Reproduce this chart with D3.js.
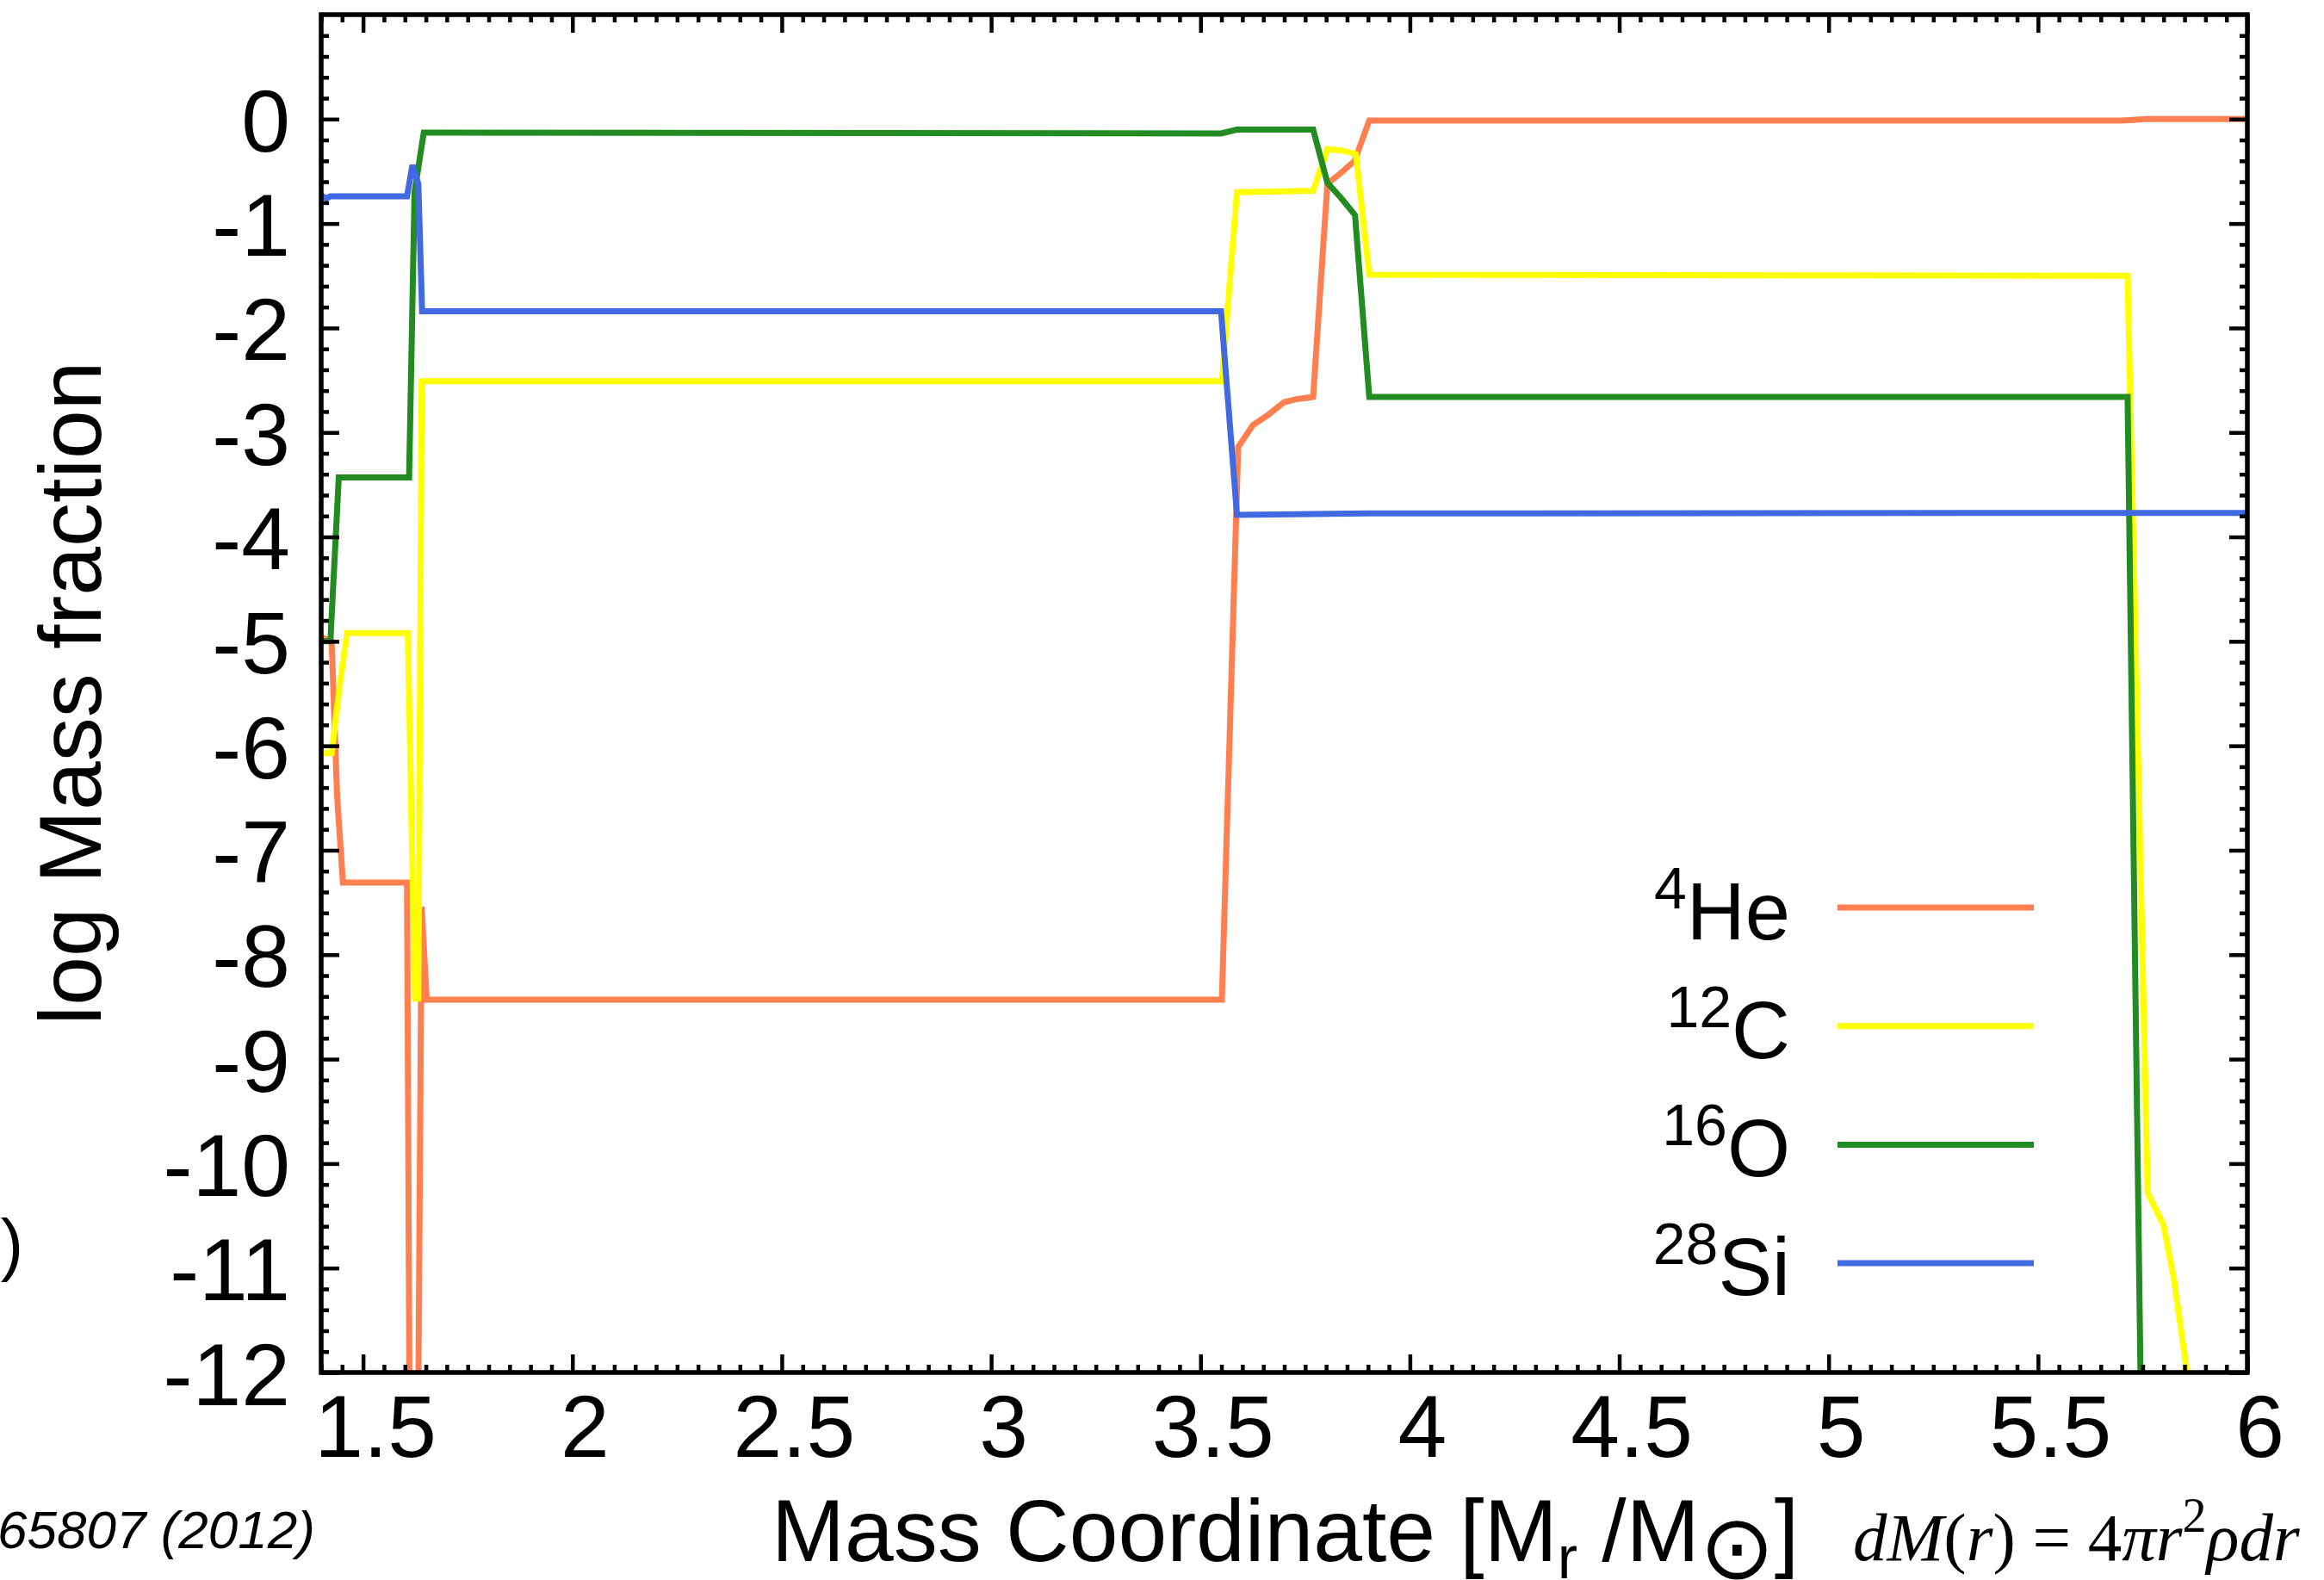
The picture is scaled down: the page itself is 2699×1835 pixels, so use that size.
<!DOCTYPE html>
<html>
<head>
<meta charset="utf-8">
<script src="https://cdn.jsdelivr.net/npm/d3@7"></script>
<style>
  html, body { margin: 0; padding: 0; background: #ffffff; }
  svg { display: block; }
</style>
</head>
<body>
<script>
// Chemical abundance profile of a stellar core: log10 mass fraction of
// each species against the enclosed mass coordinate M_r (solar masses).

const massHe = [1.400, 1.425, 1.438, 1.452, 1.605, 1.613, 1.629, 1.640, 1.652, 3.551, 3.590, 3.625, 3.662, 3.700, 3.731, 3.769, 3.803, 3.834, 3.868, 3.903, 5.700, 5.760, 6.000];
const logHe  = [-4.96, -5.00, -6.48, -7.31, -7.31, -14.0, -14.0, -7.54, -8.43, -8.43, -3.14, -2.93, -2.83, -2.71, -2.68, -2.66, -0.62, -0.52, -0.40, -0.013, -0.013, 0.0, 0.0];

const massC = [1.400, 1.425, 1.445, 1.462, 1.607, 1.624, 1.632, 1.640, 3.551, 3.587, 3.769, 3.803, 3.837, 3.871, 3.903, 5.714, 5.762, 5.800, 5.824, 5.855, 5.870];
const logC  = [-6.07, -6.07, -5.40, -4.92, -4.92, -8.42, -8.42, -2.51, -2.51, -0.70, -0.686, -0.288, -0.30, -0.335, -1.49, -1.50, -10.28, -10.59, -11.09, -11.97, -12.6];

const massO = [1.400, 1.422, 1.442, 1.610, 1.623, 1.645, 3.549, 3.587, 3.769, 3.803, 3.834, 3.869, 3.903, 5.714, 5.748];
const logO  = [-5.00, -5.00, -3.43, -3.43, -0.70, -0.13, -0.137, -0.101, -0.101, -0.61, -0.747, -0.92, -2.66, -2.66, -13.0];

const massSi = [1.400, 1.412, 1.422, 1.605, 1.618, 1.632, 1.641, 3.549, 3.587, 3.900, 6.000];
const logSi  = [-0.73, -0.76, -0.74, -0.74, -0.44, -0.62, -1.84, -1.84, -3.79, -3.775, -3.77];

// Legend entries: mass number (superscript) and element symbol
const speciesA    = ["4", "12", "16", "28"];
const speciesName = ["He", "C", "O", "Si"];

// Axis ticks and labels
const xTicks      = [1.5, 2, 2.5, 3, 3.5, 4, 4.5, 5, 5.5, 6];
const xTickLabels = ["1.5", "2", "2.5", "3", "3.5", "4", "4.5", "5", "5.5", "6"];
const yTicks      = [0, -1, -2, -3, -4, -5, -6, -7, -8, -9, -10, -11, -12];
const yTickLabels = ["0", "-1", "-2", "-3", "-4", "-5", "-6", "-7", "-8", "-9", "-10", "-11", "-12"];

// Line colours per species (X11 coral, yellow, forestgreen, royalblue)
const lineColors = ["#ff7f50", "#ffff00", "#228b22", "#4169e1"];

const W = 2699, H = 1835;
const plot = { left: 373, right: 2610, top: 17, bottom: 1594 };
const SANS = "'Liberation Sans', Arial, Helvetica, sans-serif";
const SERIF = "'Liberation Serif', 'Times New Roman', Times, serif";

const svg = d3.select("body").append("svg")
  .attr("width", W).attr("height", H)
  .attr("viewBox", `0 0 ${W} ${H}`);

const x = d3.scaleLinear().domain([1.4, 6]).range([plot.left, plot.right]);
const y = d3.scaleLinear().domain([-12, 1]).range([plot.bottom, plot.top]);

svg.append("defs").append("clipPath").attr("id", "plotClip")
  .append("rect")
  .attr("x", plot.left).attr("y", plot.top)
  .attr("width", plot.right - plot.left).attr("height", plot.bottom - plot.top);

// ---- profiles ----
const series = [
  { m: massHe, v: logHe },
  { m: massC,  v: logC },
  { m: massO,  v: logO },
  { m: massSi, v: logSi }
];

const line = d3.line().x(d => x(d[0])).y(d => y(d[1]));

const gLines = svg.append("g").attr("clip-path", "url(#plotClip)");
series.forEach((s, i) => {
  const pts = s.m.map((m, k) => [m, s.v[k]]);
  gLines.append("path")
    .datum(pts)
    .attr("d", line)
    .attr("fill", "none")
    .attr("stroke", lineColors[i])
    .attr("stroke-width", 7)
    .attr("stroke-linejoin", "miter")
    .attr("stroke-miterlimit", 4);
});

// ---- axes (all ticks point inward) ----
const majorLen = 21, minorLen = 9, tickW = 4.5;
const xMinor = d3.range(28, 121).map(k => k * 0.05).filter(v => Math.abs(v * 2 - Math.round(v * 2)) > 1e-6);
const yMinor = d3.range(-60, 6).map(k => k * 0.2).filter(v => Math.abs(v - Math.round(v)) > 1e-6);

function styleAxis(g) {
  g.select(".domain").remove();
  g.selectAll("line").attr("stroke", "#000").attr("stroke-width", tickW);
}

// bottom
svg.append("g").attr("transform", `translate(0,${plot.bottom})`)
  .call(d3.axisBottom(x).tickValues(xMinor).tickSize(-minorLen).tickFormat(""))
  .call(styleAxis);
const gxb = svg.append("g").attr("transform", `translate(0,${plot.bottom})`)
  .call(d3.axisBottom(x).tickValues(xTicks).tickSize(-majorLen)
    .tickFormat((d, i) => xTickLabels[i]))
  .call(styleAxis);
gxb.selectAll("text")
  .attr("x", 14).attr("y", 98).attr("dy", null)
  .attr("font-family", SANS).attr("font-size", 102).attr("fill", "#000");

// top
svg.append("g").attr("transform", `translate(0,${plot.top})`)
  .call(d3.axisTop(x).tickValues(xMinor).tickSize(-minorLen).tickFormat(""))
  .call(styleAxis);
svg.append("g").attr("transform", `translate(0,${plot.top})`)
  .call(d3.axisTop(x).tickValues(xTicks).tickSize(-majorLen).tickFormat(""))
  .call(styleAxis);

// left
svg.append("g").attr("transform", `translate(${plot.left},0)`)
  .call(d3.axisLeft(y).tickValues(yMinor).tickSize(-minorLen).tickFormat(""))
  .call(styleAxis);
const gyl = svg.append("g").attr("transform", `translate(${plot.left},0)`)
  .call(d3.axisLeft(y).tickValues(yTicks).tickSize(-majorLen)
    .tickFormat((d, i) => yTickLabels[i]))
  .call(styleAxis);
gyl.selectAll("text")
  .attr("x", -36).attr("dy", null).attr("y", 37)
  .attr("text-anchor", "end")
  .attr("font-family", SANS).attr("font-size", 102).attr("fill", "#000");

// right
svg.append("g").attr("transform", `translate(${plot.right},0)`)
  .call(d3.axisRight(y).tickValues(yMinor).tickSize(-minorLen).tickFormat(""))
  .call(styleAxis);
svg.append("g").attr("transform", `translate(${plot.right},0)`)
  .call(d3.axisRight(y).tickValues(yTicks).tickSize(-majorLen).tickFormat(""))
  .call(styleAxis);

// frame
svg.append("rect")
  .attr("x", plot.left).attr("y", plot.top)
  .attr("width", plot.right - plot.left).attr("height", plot.bottom - plot.top)
  .attr("fill", "none").attr("stroke", "#000").attr("stroke-width", 5.5);

// ---- axis titles ----
svg.append("text")
  .attr("transform", `translate(117,805) rotate(-90)`)
  .attr("text-anchor", "middle")
  .attr("font-family", SANS).attr("font-size", 102).attr("fill", "#000")
  .text("log Mass fraction");

const xt = svg.append("text")
  .attr("x", 896).attr("y", 1813)
  .attr("font-family", SANS).attr("font-size", 102).attr("fill", "#000");
xt.append("tspan").text("Mass Coordinate [M");
xt.append("tspan").attr("font-size", 70).attr("dy", 20).text("r");
xt.append("tspan").attr("dy", -20).text(" /M");
xt.append("tspan").attr("font-size", 104).attr("dy", 20).attr("font-family", "'DejaVu Sans', sans-serif").text("\u2299");
xt.append("tspan").attr("dy", -20).text("]");

// mass element relation
const eq = svg.append("text")
  .attr("x", 2152).attr("y", 1812)
  .attr("font-family", SERIF).attr("font-size", 79).attr("fill", "#000");
eq.append("tspan").attr("font-style", "italic").text("dM");
eq.append("tspan").text("(");
eq.append("tspan").attr("font-style", "italic").text("r");
eq.append("tspan").text(") = 4");
eq.append("tspan").attr("font-style", "italic").text("\u03c0r");
eq.append("tspan").attr("font-size", 56).attr("dy", -33).text("2");
eq.append("tspan").attr("dy", 33).attr("font-style", "italic").text("\u03c1dr");

// fragments of neighbouring captions
svg.append("text")
  .attr("x", -3).attr("y", 1798)
  .attr("font-family", SANS).attr("font-size", 62).attr("font-style", "italic").attr("fill", "#000")
  .text("65807 (2012)");
svg.append("text")
  .attr("x", 27).attr("y", 1472).attr("text-anchor", "end")
  .attr("font-family", SANS).attr("font-size", 79).attr("fill", "#000")
  .text("n)");

// ---- legend ----
const legY0 = 1054, legDY = 137.7;
const leg = svg.append("g");
speciesName.forEach((name, i) => {
  const ly = legY0 + i * legDY;
  leg.append("line")
    .attr("x1", 2134).attr("x2", 2362).attr("y1", ly).attr("y2", ly)
    .attr("stroke", lineColors[i]).attr("stroke-width", 7);
  const t = leg.append("text")
    .attr("x", 2079).attr("y", ly + 37)
    .attr("text-anchor", "end")
    .attr("font-family", SANS).attr("font-size", 94).attr("fill", "#000");
  t.append("tspan").attr("font-size", 68).attr("dy", -36).text(speciesA[i]);
  t.append("tspan").attr("dy", 36).text(name);
});
</script>
</body>
</html>
